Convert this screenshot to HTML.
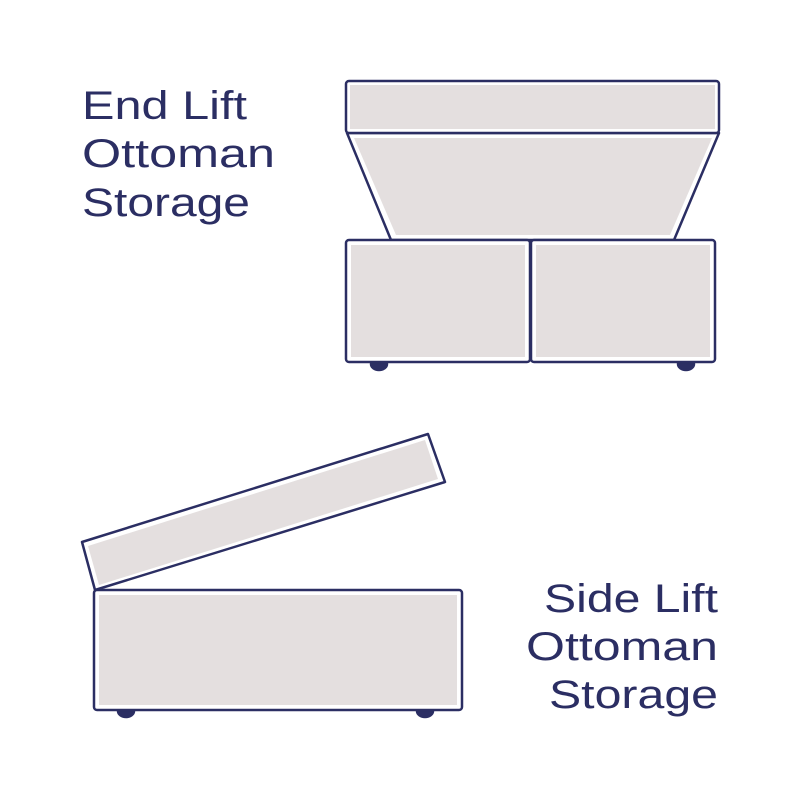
<!DOCTYPE html>
<html><head><style>html,body{margin:0;padding:0;background:#fff}</style></head>
<body>
<svg width="800" height="800" viewBox="0 0 800 800" xmlns="http://www.w3.org/2000/svg">
<g fill="#2b2e63" font-family="Liberation Sans, sans-serif" font-size="40">
<text x="82" y="119" textLength="165" lengthAdjust="spacingAndGlyphs">End Lift</text>
<text x="82" y="167" textLength="193" lengthAdjust="spacingAndGlyphs">Ottoman</text>
<text x="82" y="216" textLength="168" lengthAdjust="spacingAndGlyphs">Storage</text>
<text x="544" y="612" textLength="174" lengthAdjust="spacingAndGlyphs">Side Lift</text>
<text x="526" y="660" textLength="192" lengthAdjust="spacingAndGlyphs">Ottoman</text>
<text x="549" y="708" textLength="169" lengthAdjust="spacingAndGlyphs">Storage</text>
</g>
<g stroke="#2b2e63" stroke-width="2.5" fill="#fff" stroke-linejoin="round">
<!-- top -->
<ellipse cx="379" cy="364" rx="8" ry="6" fill="#2b2e63"/>
<ellipse cx="686" cy="364" rx="8" ry="6" fill="#2b2e63"/>
<polygon points="347,133 719,133 674,240 391,240"/>
<rect x="346" y="81" width="373" height="52" rx="3"/>
<rect x="346" y="240" width="184" height="122" rx="3"/>
<rect x="531" y="240" width="184" height="122" rx="3"/>
<!-- bottom -->
<ellipse cx="126" cy="711" rx="8" ry="6" fill="#2b2e63"/>
<ellipse cx="425" cy="711" rx="8" ry="6" fill="#2b2e63"/>
<rect x="94" y="590" width="368" height="120" rx="3"/>
<polygon points="82,542 428,434 445,482 95,590"/>
</g>
<g fill="#e4dfdf">
<rect x="350" y="85" width="365" height="44"/>
<polygon points="354,138 712,138 670,235 396,235"/>
<rect x="351" y="245" width="174" height="112"/>
<rect x="536" y="245" width="174" height="112"/>
<rect x="99" y="595" width="358" height="110"/>
<polygon points="88,546 425,440 438,479 99,585"/>
</g>
</svg>
</body></html>
